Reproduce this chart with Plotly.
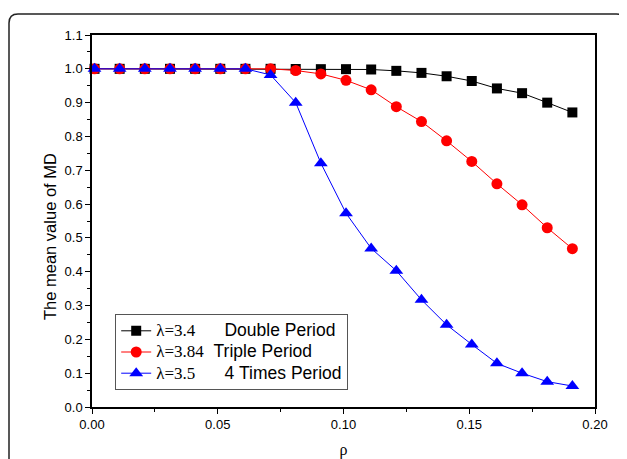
import plotly.graph_objects as go

rho = [0.001, 0.011, 0.021, 0.031, 0.041, 0.051, 0.061, 0.071, 0.081, 0.091,
       0.101, 0.111, 0.121, 0.131, 0.141, 0.151, 0.161, 0.171, 0.181, 0.191]
md_double = [1.0, 1.0, 1.0, 1.0, 1.0, 1.0, 1.0, 1.0, 0.9995, 0.999,
             0.999, 0.998, 0.994, 0.988, 0.978, 0.964, 0.942, 0.928, 0.900, 0.871]
md_triple = [1.0, 1.0, 1.0, 1.0, 1.0, 1.0, 1.0, 1.0, 0.995, 0.985,
             0.966, 0.938, 0.888, 0.844, 0.787, 0.726, 0.660, 0.598, 0.530, 0.468]
md_four = [1.0, 1.0, 1.0, 1.0, 1.0, 1.0, 1.0, 0.982, 0.900, 0.721,
           0.573, 0.469, 0.403, 0.317, 0.243, 0.185, 0.129, 0.100, 0.075, 0.062]

lam = ["λ=3.4", "λ=3.84", "λ=3.5"]
period = ["Double Period", "Triple Period", "4 Times Period"]
gaps = [6, 2, 6]
names = [
    f"<span style='font-family:Liberation Serif;font-size:17px'>{l}</span>"
    f"<span style='font-size:17.5px'>{chr(160) * g}{p}</span>"
    for l, p, g in zip(lam, period, gaps)
]

# page body has an 8px margin; work in screen pixels and shift
OFF = 8
W, H = 627 - OFF, 459 - OFF
PL, PR, PT, PB = 92, 595, 35, 407          # plot area in screen pixels
L, R, T, B = PL - OFF, W - (PR - OFF), PT - OFF, H - (PB - OFF)
pw, ph = W - L - R, H - T - B

def px(x):
    return (x - PL) / pw

def py(y):
    return (PB - y) / ph

SANS = "Liberation Sans, Arial, sans-serif"

fig = go.Figure()
fig.add_trace(go.Scatter(x=rho, y=md_double, mode="lines+markers", name=names[0],
                         line=dict(color="black", width=1),
                         marker=dict(symbol="square", size=10, color="black"),
                         cliponaxis=False))
fig.add_trace(go.Scatter(x=rho, y=md_triple, mode="lines+markers", name=names[1],
                         line=dict(color="red", width=1),
                         marker=dict(symbol="circle", size=11, color="red"),
                         cliponaxis=False))
fig.add_trace(go.Scatter(x=rho, y=md_four, mode="lines+markers", name=names[2],
                         line=dict(color="blue", width=1),
                         marker=dict(symbol="triangle-up", size=12, color="blue"),
                         cliponaxis=False))

# outer rounded frame
x0, x1, y0, y1, r = 9, 625.5, 14, 470, 9
path = (f"M {px(x0)},{py(y1)} L {px(x0)},{py(y0 + r)} "
        f"Q {px(x0)},{py(y0)} {px(x0 + r)},{py(y0)} "
        f"L {px(x1 - r)},{py(y0)} Q {px(x1)},{py(y0)} {px(x1)},{py(y0 + r)} "
        f"L {px(x1)},{py(y1)}")
fig.add_shape(type="path", path=path, xref="paper", yref="paper",
              line=dict(color="#222222", width=1.5), layer="below")

# y-axis title
fig.add_annotation(text="The mean value of MD", xref="paper", yref="paper",
                   x=px(50), y=py(237), textangle=-90, showarrow=False,
                   xanchor="center", yanchor="middle",
                   font=dict(family=SANS, size=16.5, color="black"))

axis_common = dict(showgrid=False, zeroline=False, showline=True, linecolor="black",
                   linewidth=1.5, mirror=True, ticks="outside", ticklen=5, tickwidth=1.2,
                   tickcolor="black", automargin=False,
                   tickfont=dict(family=SANS, size=13, color="black"))

fig.update_xaxes(range=[0, 0.2], dtick=0.05, tickformat=".2f",
                 minor=dict(dtick=0.025, ticks="outside", ticklen=3, tickcolor="black", tickwidth=1.2),
                 title=dict(text="ρ", font=dict(family="Liberation Serif", size=16, color="black"),
                            standoff=30),
                 **axis_common)
fig.update_yaxes(range=[0, 1.1], dtick=0.1, tickformat=".1f",
                 minor=dict(dtick=0.05, ticks="outside", ticklen=3, tickcolor="black", tickwidth=1.2),
                 **axis_common)

fig.update_layout(
    width=W, height=H,
    margin=dict(l=L, r=R, t=T, b=B, autoexpand=False),
    plot_bgcolor="white", paper_bgcolor="white",
    showlegend=True,
    legend=dict(x=px(115), y=py(314), xanchor="left", yanchor="top",
                bgcolor="white", bordercolor="#555555", borderwidth=1.2,
                font=dict(family=SANS, size=14, color="black"),
                tracegroupgap=0, itemwidth=30),
)

fig.write_html("out.html")
